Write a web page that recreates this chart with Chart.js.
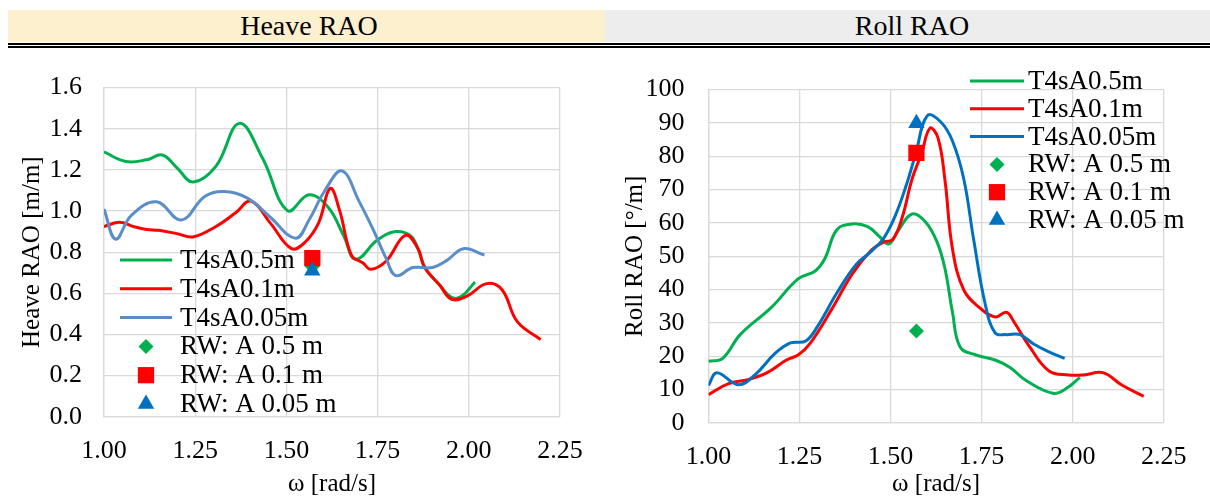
<!DOCTYPE html>
<html>
<head>
<meta charset="utf-8">
<script src="https://cdn.jsdelivr.net/npm/chart.js@4.4.1/dist/chart.umd.min.js"></script>
<style>
  html, body { margin: 0; padding: 0; background: #fff; width: 1210px; height: 497px; overflow: hidden; }
  .hdr { position: absolute; top: 10px; height: 32px; line-height: 32px; font-size: 28px; font-family: "Liberation Serif", "Times New Roman", serif; text-align: center; color: #000; box-sizing: border-box; }
  #hdrL { left: 8px; width: 597px; padding-left: 5px; background: #fdf0cf; }
  #hdrR { left: 605px; width: 605px; padding-left: 9px; background: #ededed; }
  .rule { position: absolute; left: 8px; width: 1202px; height: 2px; background: #000; }
  canvas { position: absolute; top: 50px; }
</style>
</head>
<body>
<div class="hdr" id="hdrL">Heave RAO</div>
<div class="hdr" id="hdrR">Roll RAO</div>
<div class="rule" style="top:43px"></div>
<div class="rule" style="top:46px"></div>
<canvas id="heaveChart" width="605" height="447" style="left:0"></canvas>
<canvas id="rollChart" width="605" height="447" style="left:605px"></canvas>
<script>
const serif = '"Liberation Serif", "Times New Roman", serif';

// axes
const xTicks = [1.00, 1.25, 1.50, 1.75, 2.00, 2.25];
const heaveTicks = [0, 0.2, 0.4, 0.6, 0.8, 1.0, 1.2, 1.4, 1.6];
const rollTicks = [0, 10, 20, 30, 40, 50, 60, 70, 80, 90, 100];

// legend names
const seriesNames = ["T4sA0.5m", "T4sA0.1m", "T4sA0.05m"];
const rwNames = ["RW: A 0.5 m", "RW: A 0.1 m", "RW: A 0.05 m"];

// heave RAO [m/m] vs omega
const heaveA05 = [[1.00,1.287],[1.06,1.241],[1.117,1.249],[1.16,1.272],[1.20,1.21],[1.244,1.141],[1.307,1.218],
  [1.371,1.426],[1.435,1.255],[1.503,1.002],[1.562,1.079],[1.615,1.017],[1.657,0.879],[1.69,0.765],
  [1.75,0.86],[1.80,0.90],[1.84,0.88],[1.86,0.82],[1.88,0.725],[1.92,0.64],[1.953,0.58],[1.98,0.585],[2.017,0.655]];
const heaveA01 = [[1.00,0.925],[1.043,0.945],[1.08,0.925],[1.117,0.91],[1.15,0.906],[1.20,0.89],[1.244,0.874],
  [1.307,0.925],[1.36,0.99],[1.403,1.048],[1.456,0.941],[1.514,0.817],[1.551,0.848],[1.588,0.941],[1.62,1.11],
  [1.646,1.002],[1.678,0.786],[1.71,0.747],[1.731,0.717],[1.773,0.756],[1.826,0.882],[1.86,0.82],[1.879,0.725],
  [1.92,0.64],[1.953,0.571],[1.995,0.586],[2.049,0.647],[2.091,0.617],[2.133,0.462],[2.197,0.375]];
const heaveA005 = [[1.00,1.01],[1.032,0.863],[1.075,0.979],[1.144,1.045],[1.212,0.956],[1.276,1.071],[1.329,1.095],
  [1.392,1.064],[1.455,0.971],[1.525,0.868],[1.562,0.956],[1.604,1.095],[1.652,1.195],[1.699,1.048],[1.742,0.894],
  [1.773,0.771],[1.80,0.686],[1.847,0.725],[1.90,0.725],[1.94,0.76],[1.985,0.817],[2.043,0.786]];
const heaveRW = [0.73, 0.771, 0.71];

// roll RAO [deg/m] vs omega
const rollA05 = [[1.00,18.5],[1.039,19.4],[1.087,26.5],[1.172,34.6],[1.246,43.2],[1.293,45.6],[1.32,49.4],
  [1.352,57.9],[1.394,59.7],[1.437,58.9],[1.469,56.0],[1.495,53.7],[1.522,57.9],[1.559,62.7],[1.596,60.3],
  [1.628,54.2],[1.649,46.5],[1.67,33.2],[1.691,22.8],[1.734,20.4],[1.787,18.9],[1.829,16.6],[1.871,12.8],
  [1.946,8.9],[1.983,10.4],[2.02,13.7]];
const rollA01 = [[1.00,8.5],[1.055,11.8],[1.108,13.0],[1.161,15.1],[1.214,18.9],[1.246,20.4],[1.278,23.7],
  [1.341,34.6],[1.394,44.6],[1.447,51.8],[1.479,54.2],[1.506,55.1],[1.532,61.7],[1.559,73.2],[1.585,80.8],
  [1.608,88.4],[1.63,85.6],[1.649,73.2],[1.67,52.2],[1.701,39.9],[1.744,34.6],[1.787,31.8],[1.818,33.2],
  [1.839,30.3],[1.882,22.8],[1.935,15.6],[1.988,14.4],[2.03,14.4],[2.083,15.1],[2.136,11.3],[2.195,8.0]];
const rollA005 = [[1.00,11.3],[1.023,15.1],[1.082,11.5],[1.129,14.6],[1.182,20.8],[1.225,24.0],[1.267,24.6],
  [1.299,28.9],[1.352,38.9],[1.405,47.5],[1.447,51.5],[1.479,55.1],[1.511,61.7],[1.543,71.3],[1.569,80.8],
  [1.601,92.2],[1.638,90.3],[1.67,84.6],[1.701,73.2],[1.728,55.1],[1.76,35.6],[1.787,27.0],[1.818,26.5],
  [1.855,26.5],[1.893,23.7],[1.935,21.3],[1.978,19.4]];
const rollRW = [27.6, 81.0, 89.9];

const rwOmega = 1.571;
const markerStyles = ["rectRot", "rect", "triangle"];
const markerSizes = [7.5, 11.5, 9.5];
const markerColors = ["#00b050", "#ff0000", "#0070c0"];

function drawMark(ctx, style, r, x, y) {
    ctx.beginPath();
    if (style === "rect") {
        const s = r * Math.SQRT1_2;
        ctx.rect(x - s, y - s, 2 * s, 2 * s);
    } else if (style === "rectRot") {
        ctx.moveTo(x - r, y); ctx.lineTo(x, y - r); ctx.lineTo(x + r, y); ctx.lineTo(x, y + r);
        ctx.closePath();
    } else {
        const h = r * Math.sin(Math.PI / 3);
        ctx.moveTo(x, y - r); ctx.lineTo(x + h, y + r / 2); ctx.lineTo(x - h, y + r / 2);
        ctx.closePath();
    }
    ctx.fill();
}

// legend sitting inside the plot, no box
const rwLegend = {
    id: "rwLegend",
    afterDatasetsDraw(chart, args, opts) {
        const ctx = chart.ctx;
        ctx.save();
        ctx.font = "27px " + serif;
        ctx.textBaseline = "middle";
        chart.data.datasets.forEach((ds, i) => {
            const y = opts.top + i * opts.gap;
            if (ds.showLine) {
                ctx.strokeStyle = ds.borderColor;
                ctx.lineWidth = 3;
                ctx.beginPath();
                ctx.moveTo(opts.x0, y);
                ctx.lineTo(opts.x1, y);
                ctx.stroke();
            } else {
                ctx.fillStyle = ds.backgroundColor;
                drawMark(ctx, ds.pointStyle, ds.pointRadius, (opts.x0 + opts.x1) / 2, y);
            }
            ctx.fillStyle = "#000";
            ctx.fillText(ds.label, opts.textX, y + 1);
        });
        ctx.restore();
    }
};

function buildChart(id, curves, rw, colors, yTicks, yDigits, yTitle, box) {
    const datasets = curves.map((pts, i) => ({
        label: seriesNames[i],
        data: pts.map(p => ({ x: p[0], y: p[1] })),
        showLine: true,
        borderColor: colors[i],
        borderWidth: 3,
        borderJoinStyle: "round",
        pointRadius: 0,
        tension: 0.4,
        order: 5 - i
    }));
    rw.forEach((v, i) => datasets.push({
        label: rwNames[i],
        data: [{ x: rwOmega, y: v }],
        showLine: false,
        pointStyle: markerStyles[i],
        pointRadius: markerSizes[i],
        backgroundColor: markerColors[i],
        borderWidth: 0,
        order: 2 - i
    }));

    new Chart(document.getElementById(id), {
        type: "scatter",
        data: { datasets },
        options: {
            responsive: false,
            animation: false,
            events: [],
            layout: { padding: { left: 0, right: box.right, top: box.top, bottom: 0 } },
            plugins: { legend: { display: false }, tooltip: { enabled: false }, rwLegend: box.legend },
            scales: {
                x: {
                    type: "linear", min: xTicks[0], max: xTicks[xTicks.length - 1],
                    afterBuildTicks: s => { s.ticks = xTicks.map(v => ({ value: v })); },
                    afterFit: s => { s.height = box.xh; },
                    grid: { color: "#d9d9d9", lineWidth: 1.3, drawTicks: false },
                    border: { color: "#d9d9d9", width: 1.3 },
                    ticks: { font: { family: serif, size: 26 }, color: "#000", padding: 19, maxRotation: 0, autoSkip: false,
                        callback: v => v.toFixed(2) },
                    title: { display: true, text: "ω [rad/s]", color: "#000", padding: 0,
                        font: { family: serif, size: 25, lineHeight: 1 } }
                },
                y: {
                    type: "linear", min: yTicks[0], max: yTicks[yTicks.length - 1],
                    afterBuildTicks: s => { s.ticks = yTicks.map(v => ({ value: v })); },
                    afterFit: s => { s.width = box.yw; },
                    grid: { color: "#d9d9d9", lineWidth: 1.3, drawTicks: false },
                    border: { color: "#d9d9d9", width: 1.3 },
                    ticks: { font: { family: serif, size: 26 }, color: "#000", padding: box.ypad, autoSkip: false,
                        callback: v => v.toFixed(yDigits) },
                    title: { display: true, text: yTitle, color: "#000", padding: { top: box.titlePad, bottom: 0 },
                        font: { family: serif, size: 25 } }
                }
            }
        },
        plugins: [rwLegend]
    });
}

buildChart("heaveChart", [heaveA05, heaveA01, heaveA005], heaveRW, ["#00b050", "#ff0000", "#5b8ec8"],
    heaveTicks, 1, "Heave RAO [m/m]",
    { right: 45, top: 20.7, xh: 80.3, yw: 104, ypad: 22, titlePad: 17.5,
      legend: { x0: 120, x1: 172, textX: 180, top: 210, gap: 28.8 } });

buildChart("rollChart", [rollA05, rollA01, rollA005], rollRW, ["#00b050", "#ff0000", "#0070c0"],
    rollTicks, 0, "Roll RAO [°/m]",
    { right: 46.3, top: 22.7, xh: 74, yw: 103.5, ypad: 24, titlePad: 15,
      legend: { x0: 365, x1: 419, textX: 423, top: 31, gap: 27.8 } });
</script>
</body>
</html>
